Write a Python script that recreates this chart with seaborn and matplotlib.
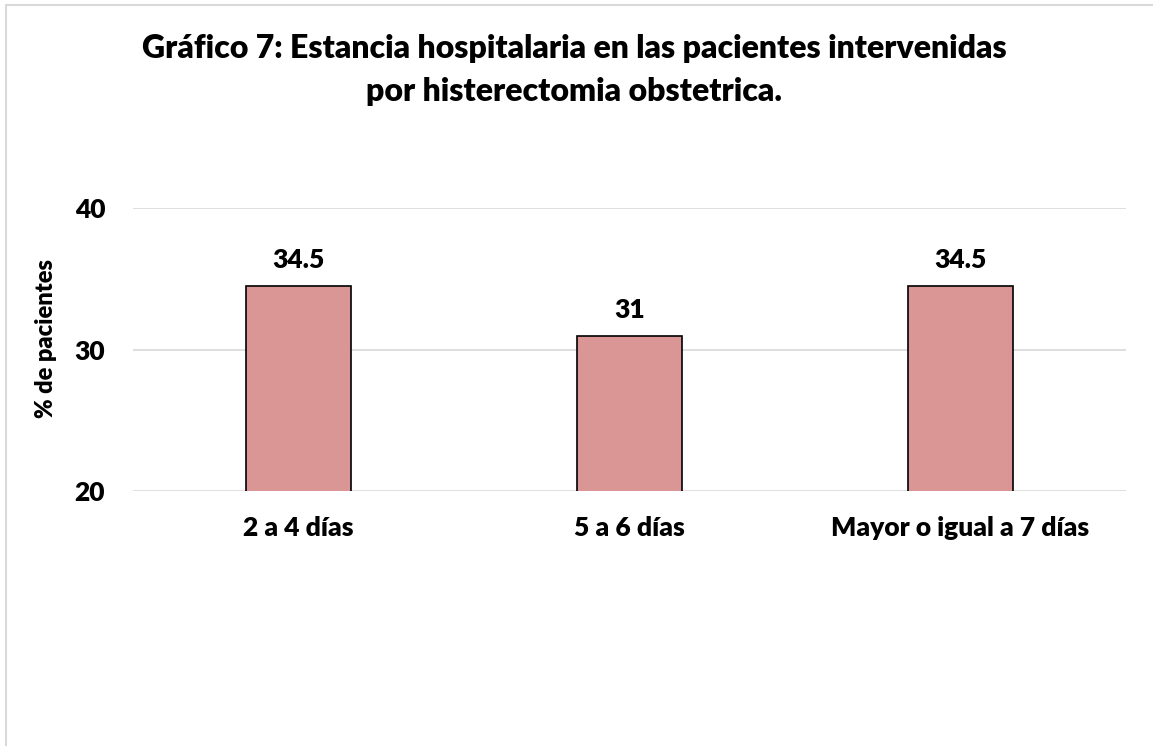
import matplotlib
matplotlib.use("Agg")
import matplotlib.pyplot as plt
import seaborn as sns
import pandas as pd
from matplotlib.patches import Rectangle

categories = ["2 a 4 días", "5 a 6 días", "Mayor o igual a 7 días"]
values = [34.5, 31, 34.5]
value_labels = ["34.5", "31", "34.5"]
yticks = [20, 30, 40]

sns.set_theme(style="white")
plt.rcParams['font.family'] = ['Lato', 'DejaVu Sans']
plt.rcParams['text.color'] = 'black'
plt.rcParams['axes.labelcolor'] = 'black'
plt.rcParams['xtick.color'] = 'black'
plt.rcParams['ytick.color'] = 'black'

FW = 800
W, H = 1153, 746
fig = plt.figure(figsize=(W / 100, H / 100), dpi=100)
ax = fig.add_axes([133 / W, 1 - 491 / H, (1126 - 133) / W, (491 - 208.3) / H])

df = pd.DataFrame({"cat": categories, "val": values})
sns.barplot(data=df, x="cat", y="val", ax=ax, color="#D99694", width=0.315,
            edgecolor="black", linewidth=1.2, saturation=1)

ax.set_ylim(20, 40)
ax.set_xlim(-0.5, 2.5)
ax.set_yticks(yticks)
ax.set_yticklabels([str(t) for t in yticks], fontsize=19, fontweight=FW)
ax.tick_params(axis="y", length=0, pad=20)
ax.tick_params(axis="x", length=0, pad=18)
for lab in ax.get_xticklabels():
    lab.set_fontsize(19)
    lab.set_fontweight(FW)
ax.yaxis.grid(True, color="#D9D9D9", linewidth=1.2)
ax.set_axisbelow(True)
for s in ax.spines.values():
    s.set_visible(False)
ax.set_xlabel("")
ax.set_ylabel("% de pacientes", fontsize=17, fontweight=FW)
ax.yaxis.set_label_coords(-(133 - 57) / (1126 - 133), (491 - 339) / (491 - 208.3))

for i, (v, t) in enumerate(zip(values, value_labels)):
    ax.annotate(t, (i, v), xytext=(0, 10), textcoords="offset points",
                ha="center", va="bottom", fontsize=19, fontweight=FW)

fig.text(574 / W, 1 - 70 / H,
         "Gráfico 7: Estancia hospitalaria en las pacientes intervenidas\npor histerectomia obstetrica.",
         ha="center", va="center", fontsize=23, fontweight=FW, linespacing=1.6)

fig.patches.append(Rectangle((5.5 / W, -0.05), 1.2, 1 - 5 / H + 0.05, transform=fig.transFigure,
                             fill=False, edgecolor="#D9D9D9", linewidth=1.5))

fig.savefig("out.png", dpi=100)
